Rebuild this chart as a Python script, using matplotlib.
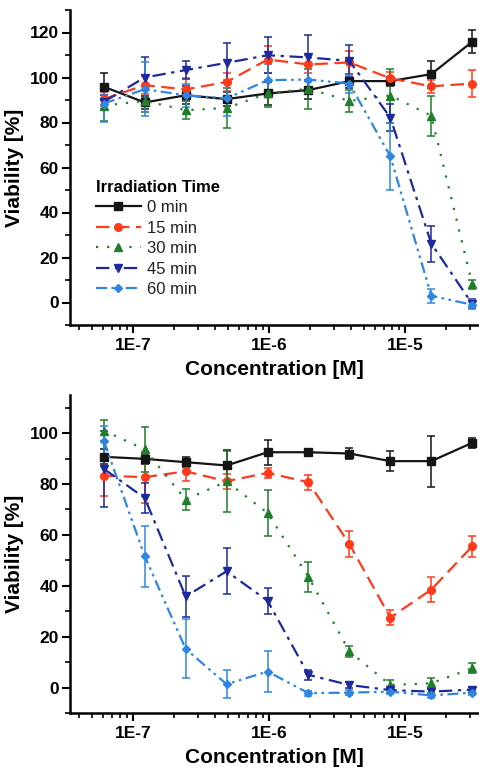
import matplotlib
matplotlib.use("Agg")
import matplotlib.pyplot as plt
import numpy as np
from matplotlib.ticker import FixedLocator, MultipleLocator, NullFormatter, LogLocator

plt.rcParams['font.family'] = ['Liberation Sans', 'DejaVu Sans']

# concentrations [M], two-fold dilution series
conc = [6.1e-8, 1.22e-7, 2.44e-7, 4.88e-7, 9.77e-7, 1.95e-6, 3.9e-6, 7.8e-6, 1.56e-5, 3.12e-5]

labels = ["0 min", "15 min", "30 min", "45 min", "60 min"]

# top panel
top_0 = [95.9, 88.9, 92.1, 90.4, 92.9, 94.4, 98.4, 98.4, 101.5, 115.9]
top_0_err = [6, 3, 4, 3, 5, 4, 3, 2, 6, 5]
top_15 = [90.4, 96.6, 94.7, 98.0, 108.0, 105.8, 106.7, 99.6, 96.1, 97.3]
top_15_err = [3, 4, 5, 4, 6, 4, 5, 3, 3, 6]
top_30 = [87.5, 89.6, 85.5, 86.4, 93.0, 95.0, 89.6, 92.0, 83.0, 8.2]
top_30_err = [7, 5, 4, 9, 6, 9, 5, 12, 9, 2]
top_45 = [89.2, 100.0, 103.3, 106.5, 109.9, 108.9, 107.4, 82.2, 26.2, -0.6]
top_45_err = [3, 9, 4, 9, 8, 10, 7, 6, 8, 2]
top_60 = [88.4, 94.8, 92.1, 90.7, 98.8, 99.1, 97.3, 65.0, 3.0, -1.0]
top_60_err = [8, 12, 5, 8, 7, 6, 4, 15, 3, 2]

# bottom panel
bot_0 = [90.7, 89.9, 88.6, 87.3, 92.5, 92.5, 92.0, 89.0, 89.0, 96.2]
bot_0_err = [3, 2, 2, 6, 5, 1, 2, 4, 10, 2]
bot_15 = [83.3, 82.7, 85.0, 81.1, 84.4, 80.7, 56.4, 27.5, 38.5, 55.5]
bot_15_err = [8, 10, 4, 3, 2, 3, 5, 3, 5, 4]
bot_30 = [101.0, 93.6, 73.9, 81.0, 68.6, 43.5, 14.2, 1.0, 1.7, 7.6]
bot_30_err = [4, 9, 4, 12, 9, 6, 2, 2, 2, 2]
bot_45 = [86.0, 74.5, 35.8, 45.7, 34.1, 5.0, 1.0, -1.0, -1.6, -0.8]
bot_45_err = [15, 6, 8, 9, 5, 2, 1, 1, 1, 1]
bot_60 = [97.0, 51.6, 15.2, 1.3, 6.3, -2.2, -2.0, -1.6, -3.1, -2.0]
bot_60_err = [6, 12, 11.6, 5.5, 8, 1, 1, 1, 1, 1]

colors = ["#151515", "#ff3a1a", "#1f7f2a", "#1c2a9c", "#2f86e0"]
markers = ["s", "o", "^", "v", "D"]
styles = ["-", (0, (6, 3)), (0, (1, 4)), (0, (6, 2.5, 1.5, 2.5)), (0, (5, 2, 1.2, 2, 1.2, 2))]

fig = plt.figure(figsize=(4.79, 7.74), dpi=100)
ax1 = fig.add_axes([70 / 479, 1 - 325 / 774, 1 - 70 / 479, 315 / 774])
ax2 = fig.add_axes([70 / 479, 1 - 713 / 774, 1 - 70 / 479, 318 / 774])

top = [(top_0, top_0_err), (top_15, top_15_err), (top_30, top_30_err), (top_45, top_45_err), (top_60, top_60_err)]
bot = [(bot_0, bot_0_err), (bot_15, bot_15_err), (bot_30, bot_30_err), (bot_45, bot_45_err), (bot_60, bot_60_err)]

handles = []
for ax, data, ylim in [(ax1, top, (-10, 130)), (ax2, bot, (-10, 115))]:
    for i, (y, e) in enumerate(data):
        c = ax.errorbar(conc, y, yerr=e, color=colors[i], marker=markers[i], ms=5.5 if markers[i] != "D" else 4.5,
                        ls=styles[i], lw=1.6, elinewidth=1.1, capsize=3, capthick=1.1, label=labels[i])
        if ax is ax1:
            handles.append(c[0])
    ax.set_xscale("log")
    ax.set_xlim(10 ** -7.463, 10 ** -4.456)
    ax.set_ylim(*ylim)
    ax.spines["top"].set_visible(False)
    ax.spines["right"].set_visible(False)
    ax.spines["left"].set_linewidth(1.8)
    ax.spines["bottom"].set_linewidth(1.8)
    ax.xaxis.set_major_locator(FixedLocator([1e-7, 1e-6, 1e-5]))
    ax.set_xticklabels(["1E-7", "1E-6", "1E-5"])
    ax.xaxis.set_minor_locator(LogLocator(base=10, subs=np.arange(2, 10)))
    ax.xaxis.set_minor_formatter(NullFormatter())
    ax.yaxis.set_major_locator(MultipleLocator(20))
    ax.yaxis.set_minor_locator(MultipleLocator(10))
    ax.tick_params(which="major", length=6, width=1.5, direction="out", labelsize=12.5)
    ax.tick_params(axis="y", which="major", pad=2)
    ax.tick_params(which="minor", length=3.5, width=1.2, direction="out")
    for t in ax.get_xticklabels() + ax.get_yticklabels():
        t.set_fontweight("bold")
    ax.set_xlabel("Concentration [M]", fontsize=15, fontweight="bold", labelpad=5)
    ax.set_ylabel("Viability [%]", fontsize=15, fontweight="bold", labelpad=4)

leg = ax1.legend(handles, labels, loc="upper left", bbox_to_anchor=(84 / 479, 1 - 168 / 774),
                 bbox_transform=fig.transFigure, frameon=False, title="Irradiation Time",
                 fontsize=12, title_fontsize=12, handlelength=2.7, handletextpad=0.4,
                 labelspacing=0.33, alignment="left", borderpad=0.2)
leg.get_title().set_fontweight("bold")
for t in leg.get_texts():
    t.set_color("#222222")

fig.savefig("out.png", dpi=100)
